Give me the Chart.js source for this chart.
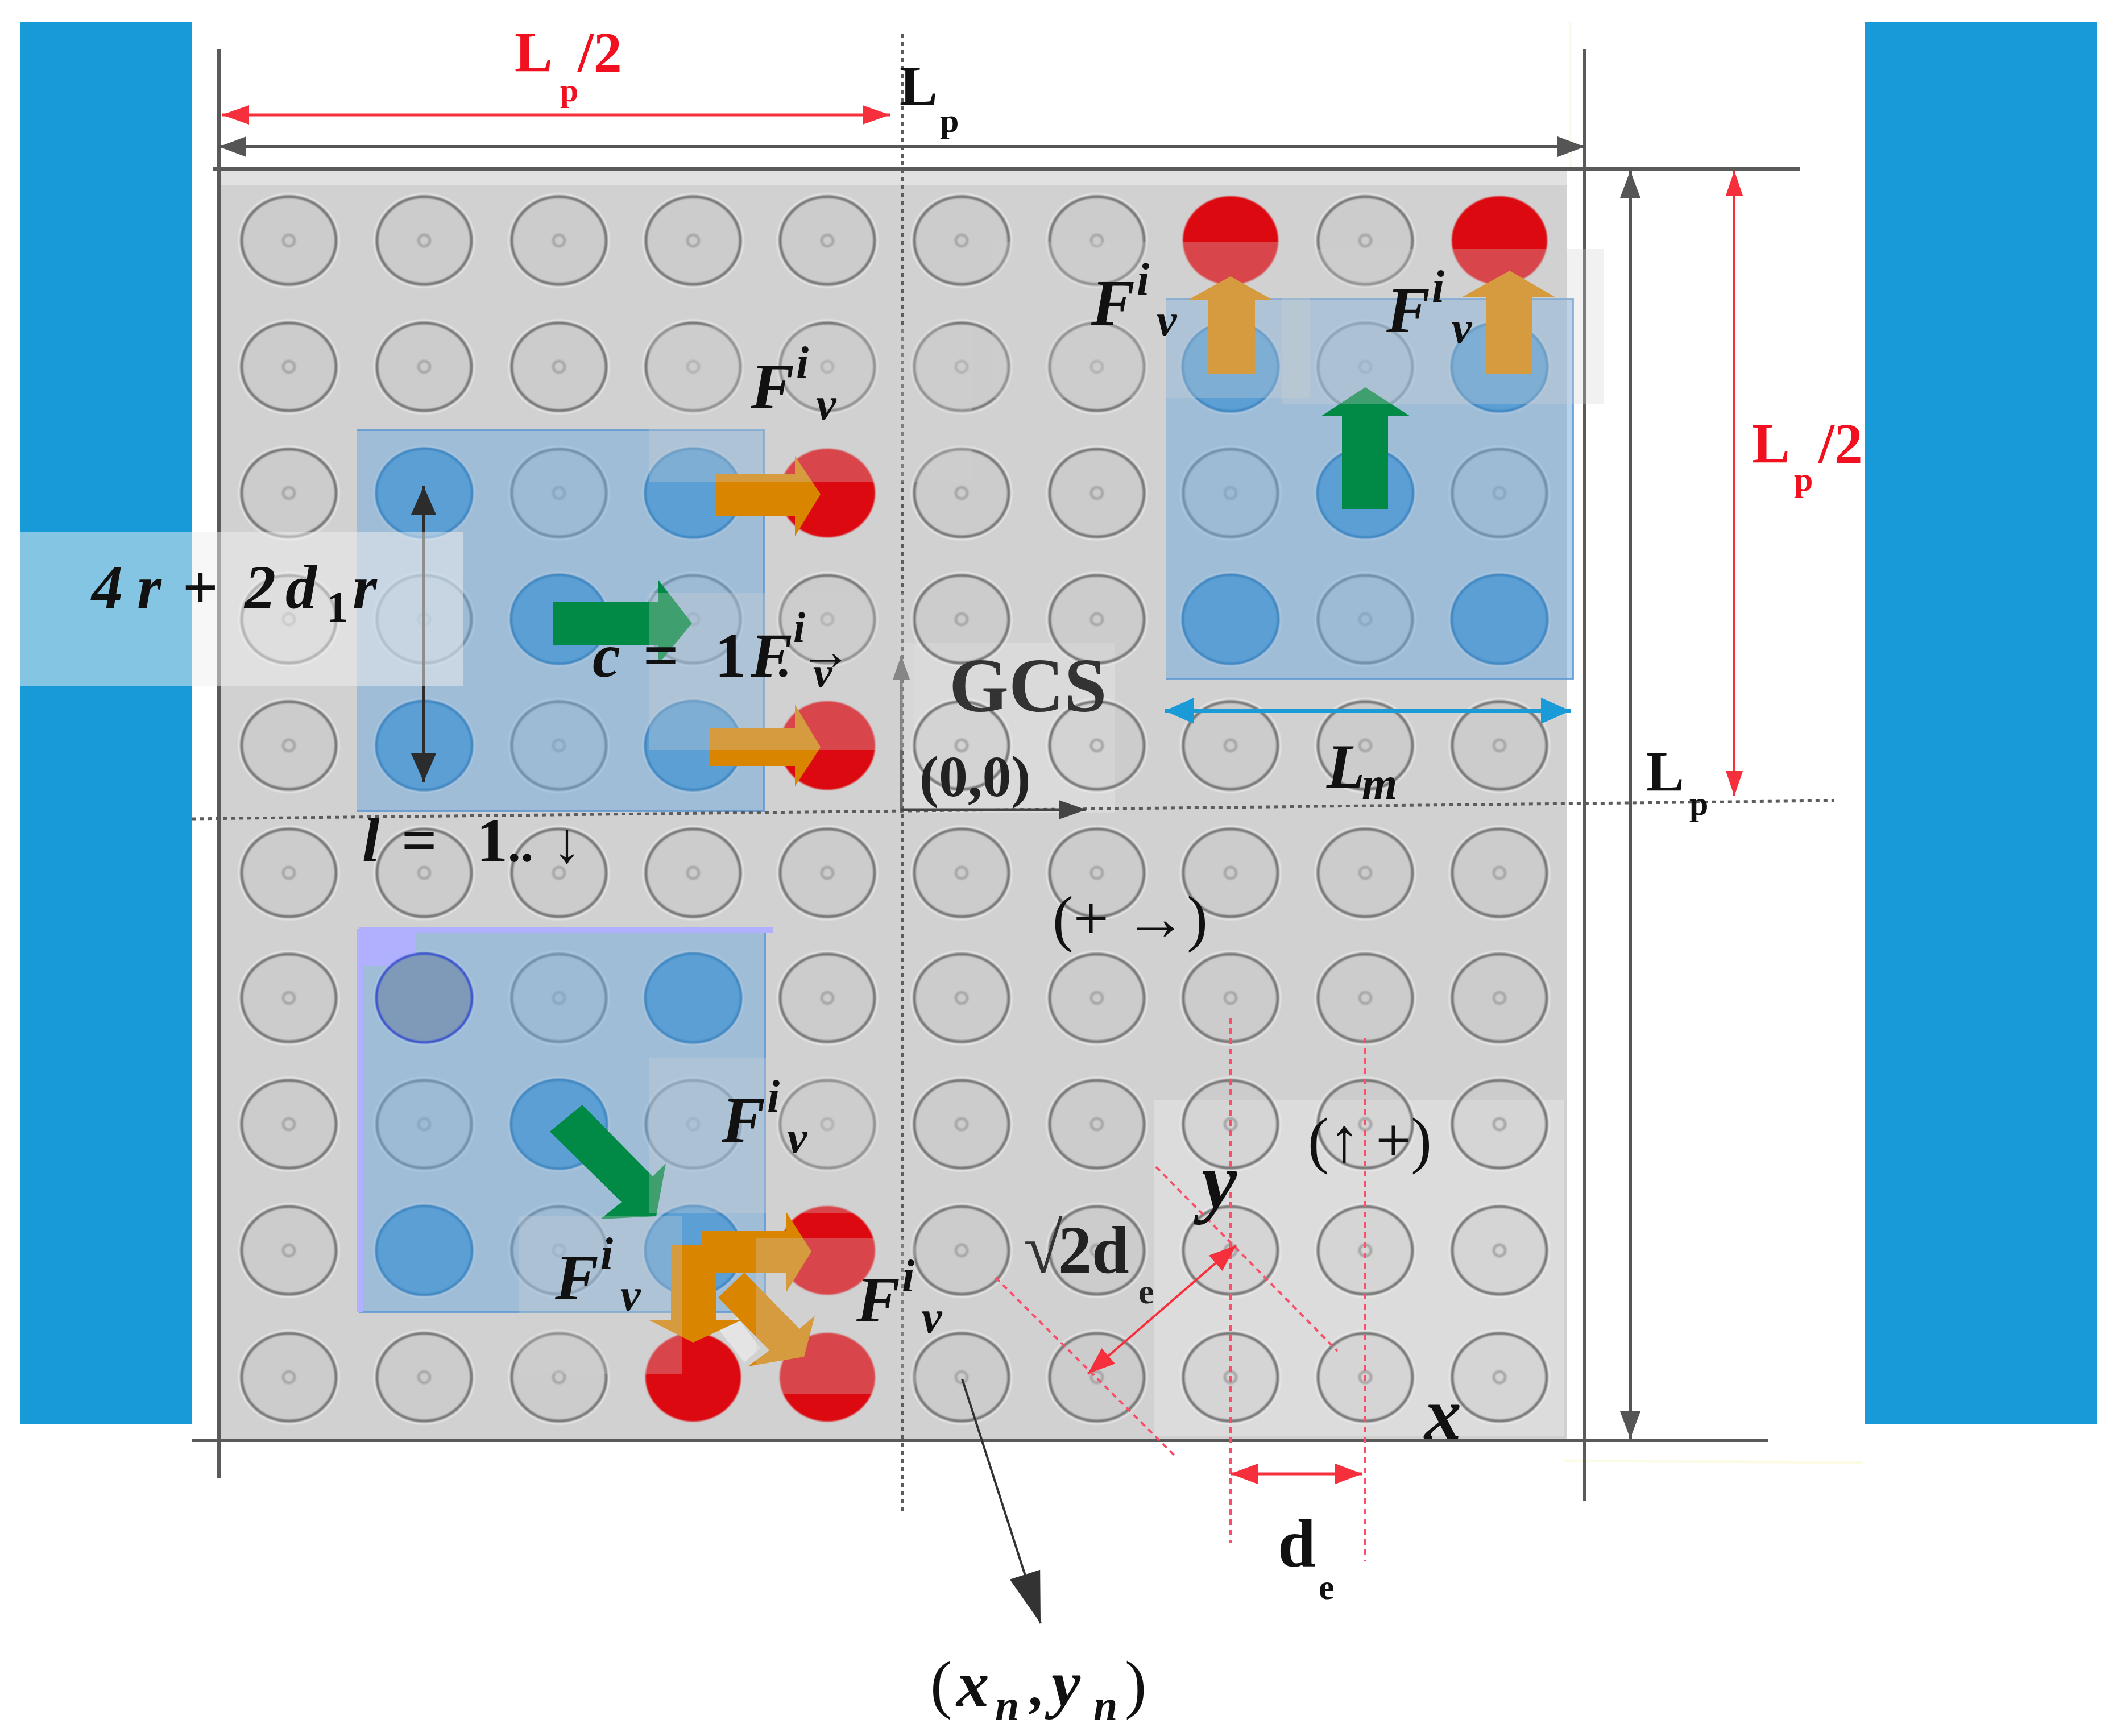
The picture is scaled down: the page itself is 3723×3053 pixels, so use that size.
<!DOCTYPE html>
<html><head><meta charset="utf-8">
<style>html,body{margin:0;padding:0;background:#fff}canvas{display:block}</style>
<script src="https://cdn.jsdelivr.net/npm/chart.js@4"></script></head>
<body><canvas id="c" width="3723" height="3053"></canvas>
<script>
// ---- data (diagram units, on the x and y scales below) ----
const columnCentres=[508,746,983,1219,1455,1691,1929,2164,2401,2637];
const rowCentres=[423,645,867,1089,1311,1535,1755,1977,2199,2422];
const blueCells=[[2,3],[4,3],[3,4],[2,5],[4,5],[8,2],[10,2],[9,3],[8,4],[10,4],[4,7],[3,8],[2,9],[4,9]];
const slateCells=[[2,7]];
const redCells=[[5,3],[5,5],[8,1],[10,1],[5,9],[4,10],[5,10]];
const sideBars=[[36,38,337,2505],[3279,38,3687,2505]];
const panels=[[385,297,2755,2533,'#d1d1d1'],[385,297,2755,325,'#e1e1e1'],[2030,1935,2750,2525,'#dcdcdc'],[1590,1130,1960,1430,'#dadada']];
const moduleBoxes=[[628,756,1343,1426],[2051,526,2766,1194],[631,1634,1345,2307]];
const purpleStrips=[[631,1630,1360,1640],[627,1634,638,2307],[631,1634,732,1698]];
const veils=[[36,935,815,1207,'rgba(240,240,240,.5)'],[1142,574,1710,847],[1142,1043,1607,1319],[1745,426,2303,700],[2254,438,2821,710],[1142,1861,1584,2134],[1329,2178,1610,2452],[912,2138,1200,2416]];
const greenPolys=[
 [[972,1059],[1157,1059],[1157,1019],[1217,1096],[1157,1169],[1157,1134],[972,1134]],
 [[2360,895],[2360,732],[2323,732],[2401,681],[2480,732],[2441,732],[2441,895]],
 [[967,1990],[1024,1943],[1148,2069],[1171,2046],[1154,2139],[1056,2144],[1093,2114]]];
const orangePolys=[
 [[1260,833],[1398,833],[1398,802],[1443,869],[1398,943],[1398,907],[1260,907]],
 [[1249,1280],[1398,1280],[1398,1239],[1443,1314],[1398,1383],[1398,1347],[1249,1347]],
 [[2125,658],[2125,528],[2088,528],[2164,486],[2239,528],[2207,528],[2207,658]],
 [[2613,658],[2613,522],[2572,522],[2655,476],[2734,522],[2695,522],[2695,658]],
 [[1263,2282],[1309,2238],[1406,2337],[1433,2314],[1414,2386],[1315,2403],[1353,2375]],
 [[1234,2165],[1383,2165],[1383,2132],[1427,2201],[1383,2272],[1383,2238],[1234,2238]],
 [[1180,2190],[1260,2190],[1260,2322],[1303,2322],[1219,2361],[1142,2322],[1180,2322]]];
const paleGap=[[1263,2337],[1297,2317],[1337,2371],[1309,2396]];
const frameLines=[[[385,87],[385,2600]],[[2787,87],[2787,2640]],[[375,297],[3165,297]],[[337,2533],[3110,2533]]];
const dottedLines=[[[1587,60],[1587,2665]],[[337,1440],[3225,1408]]];
const faintLines=[[[2750,2569],[3277,2572]],[[2762,38],[2762,300]]];
const redDashes=[[[2164,1790],[2164,2713]],[[2401,1825],[2401,2745]],[[2033,2052],[2352,2376]],[[1751,2247],[2070,2564]]];
// from, to, colour, line width, head length, head width, double-ended
const arrows=[
 [[385,258],[2787,258],'#555555',6,48,36,true],
 [[390,202],[1565,202],'#f5303c',5,48,34,true],
 [[2867,300],[2867,2530],'#555555',6,48,36,true],
 [[3050,300],[3050,1400],'#f5303c',4,44,30,true],
 [[2048,1250],[2762,1250],'#1a9ad6',8,52,46,true],
 [[745,855],[745,1375],'#2c2c2c',4,50,44,true],
 [[1585,1430],[1585,1153],'#666666',5,42,30,false],
 [[1585,1424],[1910,1424],'#444444',5,48,34,false],
 [[1692,2425],[1830,2855],'#333333',4,90,56,false],
 [[2174,2190],[1913,2416],'#f5303c',4,48,36,true],
 [[2164,2592],[2396,2592],'#f5303c',5,48,36,true]];
// text, x, y, size, font key, colour
const texts=[
 ['L',905,125,100,'b','#f01020'],['p',985,178,58,'b','#f01020'],['/2',1016,125,100,'b','#f01020'],
 ['L',1582,184,100,'b','#111'],['p',1653,232,60,'b','#111'],
 ['L',3081,813,100,'b','#f01020'],['p',3155,863,60,'b','#f01020'],['/2',3198,813,100,'b','#f01020'],
 ['L',2895,1390,100,'b','#111'],['p',2971,1433,60,'b','#111'],
 ['L',2333,1385,110,'bi','#111'],['m',2395,1405,80,'bi','#111'],
 ['GCS',1669,1251,135,'b','#333'],['(0,0)',1617,1400,102,'b','#222'],
 ['4',161,1070,110,'bi','#111'],['r',241,1070,110,'bi','#111'],['+',321,1070,110,'b','#111'],['2',430,1070,110,'bi','#111'],['d',502,1070,110,'bi','#111'],['1',574,1093,76,'b','#111'],['r',620,1070,110,'bi','#111'],
 ['c',1042,1190,110,'bi','#111'],['=',1131,1190,110,'b','#111'],['1',1257,1190,110,'b','#111'],['F',1320,1190,110,'bi','#111'],['.',1366,1190,90,'b','#111'],['i',1395,1129,76,'bi','#111'],['v',1430,1208,76,'bi','#111'],['→',1406,1177,92,'r','#111'],
 ['l',637,1515,110,'bi','#111'],['=',706,1515,110,'b','#111'],['1',838,1515,110,'b','#111'],['..',893,1515,90,'b','#111'],['↓',972,1516,100,'r','#111'],
 ['(+ →)',1851,1652,110,'r','#111'],['(↑ +)',2300,2042,110,'r','#111'],
 ['y',2113,2124,140,'bi','#111'],['x',2505,2530,130,'bi','#111'],
 ['√',1800,2238,125,'r','#333'],['2d',1861,2238,118,'b','#222'],['e',2002,2292,62,'b','#222'],
 ['d',2247,2755,120,'b','#111'],['e',2319,2812,62,'b','#111'],
 ['(',1636,3000,115,'r','#111'],['x',1682,3000,115,'bi','#111'],['n',1750,3025,76,'bi','#111'],[',',1808,3000,100,'b','#111'],['y',1849,3000,115,'bi','#111'],['n',1923,3025,76,'bi','#111'],[')',1978,3000,115,'r','#111']];
const forceLabelAnchors=[[1320,718],[1919,571],[2438,584],[1269,2008],[976,2285],[1506,2324]];

// ---- sprites for the ellipses ----
const RX=85,RY=79;
function sprite(paint){const c=document.createElement('canvas');c.width=2*RX+20;c.height=2*RY+20;const g=c.getContext('2d');g.translate(RX+10,RY+10);g.filter='blur(1.2px)';paint(g);return c;}
const ell=(g,rx,ry)=>{g.beginPath();g.ellipse(0,0,rx,ry,0,0,Math.PI*2);};
const ringSprite=sprite(g=>{
 ell(g,RX+3,RY+3);g.strokeStyle='rgba(235,235,235,.8)';g.lineWidth=3;g.stroke();
 ell(g,RX-2,RY-2);g.fillStyle='rgba(190,190,190,.25)';g.fill();g.strokeStyle='#777';g.lineWidth=5;g.stroke();
 ell(g,10,10);g.strokeStyle='#a8a8a8';g.lineWidth=5;g.stroke();});
const disc=(fill,edge,w)=>sprite(g=>{ell(g,RX-1,RY-1);g.fillStyle=fill;g.fill();if(edge){g.strokeStyle=edge;g.lineWidth=w;g.stroke();}});
const blueSprite=disc('#5b9fd4','#3f88c4',4),slateSprite=disc('#7f9ab8','#3a50d0',4),redSprite=disc('#dc0a10',null,0);

// ---- datasets, listed from back to front ----
const rectPts=r=>[{x:r[0],y:r[1]},{x:r[2],y:r[1]},{x:r[2],y:r[3]},{x:r[0],y:r[3]}];
const polyPts=p=>p.map(q=>({x:q[0],y:q[1]}));
const shape=(pts,color,extra={})=>({data:pts,showLine:true,fill:'shape',backgroundColor:color,borderColor:color,borderWidth:0,pointRadius:0,tension:0,...extra});
const line=(l,color,w,dash)=>({data:polyPts(l),showLine:true,fill:false,borderColor:color,borderWidth:w,borderDash:dash||[],pointRadius:0,tension:0});
const cells=(list,img)=>({data:list.map(c=>({x:columnCentres[c[0]-1],y:rowCentres[c[1]-1]})),showLine:false,pointStyle:img,pointRadius:85});
function head(tip,back,len,wid,color){const dx=tip[0]-back[0],dy=tip[1]-back[1],n=Math.hypot(dx,dy),u=dx/n,v=dy/n;
 return shape(polyPts([tip,[tip[0]-u*len-v*wid/2,tip[1]-v*len+u*wid/2],[tip[0]-u*len+v*wid/2,tip[1]-v*len-u*wid/2]]),color);}
const layers=[];
faintLines.forEach(l=>layers.push(line(l,'#fbfbe6',5)));
sideBars.forEach(r=>layers.push(shape(rectPts(r),'#189ad8')));
panels.forEach(r=>layers.push(shape(rectPts(r),r[4])));
const allCells=[];rowCentres.forEach((_,r)=>columnCentres.forEach((_,c)=>allCells.push([c+1,r+1])));
layers.push(cells(allCells.filter(c=>!redCells.map(String).includes(String(c))),ringSprite));
moduleBoxes.forEach(r=>layers.push(shape(rectPts(r),'rgba(112,170,224,.5)',{borderColor:'rgba(90,150,210,.8)',borderWidth:4})));
purpleStrips.forEach(r=>layers.push(shape(rectPts(r),'#b0b0ff')));
layers.push(cells(blueCells,blueSprite),cells(slateCells,slateSprite),cells(redCells,redSprite));
frameLines.forEach(l=>layers.push(line(l,'#5a5a5a',6)));
dottedLines.forEach(l=>layers.push(line(l,'#5c5c5c',5,[7,7])));
redDashes.forEach(l=>layers.push(line(l,'#f8506a',4,[10,8])));
arrows.forEach(a=>{const f=a[0],t=a[1],c=a[2];layers.push(line([f,t],c,a[3]));layers.push(head(t,f,a[4],a[5],c));if(a[6])layers.push(head(f,t,a[4],a[5],c));});
layers.push(shape(polyPts(paleGap),'#e4e4e4'));
greenPolys.forEach(p=>layers.push(shape(polyPts(p),'#008a45')));
orangePolys.forEach(p=>layers.push(shape(polyPts(p),'#d98500')));
veils.forEach(r=>layers.push(shape(rectPts(r),r[4]||'rgba(208,208,208,.3)')));
layers.forEach((d,i)=>{d.order=layers.length-i;});

// ---- text, placed through the scales ----
const fonts={b:'bold %px "Liberation Serif"',bi:'italic bold %px "Liberation Serif"',r:'%px "Liberation Serif"'};
const textPlugin={id:'texts',afterDraw(ch){const g=ch.ctx,X=ch.scales.x,Y=ch.scales.y;g.save();g.textBaseline='alphabetic';g.textAlign='left';
 const put=(s,x,y,size,f,col)=>{g.font=fonts[f].replace('%',size);g.fillStyle=col;g.fillText(s,X.getPixelForValue(x),Y.getPixelForValue(y));};
 texts.forEach(t=>put(...t));
 forceLabelAnchors.forEach(a=>{put('F',a[0],a[1],115,'bi','#111');put('i',a[0]+80,a[1]-53,80,'bi','#111');put('v',a[0]+115,a[1]+19,80,'bi','#111');});
 g.restore();}};

new Chart(document.getElementById('c'),{type:'scatter',data:{datasets:layers},plugins:[textPlugin],options:{
 responsive:false,devicePixelRatio:1,animation:false,events:[],layout:{padding:0,autoPadding:false},
 plugins:{legend:{display:false},tooltip:{enabled:false},title:{display:false}},
 scales:{x:{type:'linear',min:0,max:3723,display:false},y:{type:'linear',min:0,max:3053,reverse:true,display:false}}}});
</script></body></html>
